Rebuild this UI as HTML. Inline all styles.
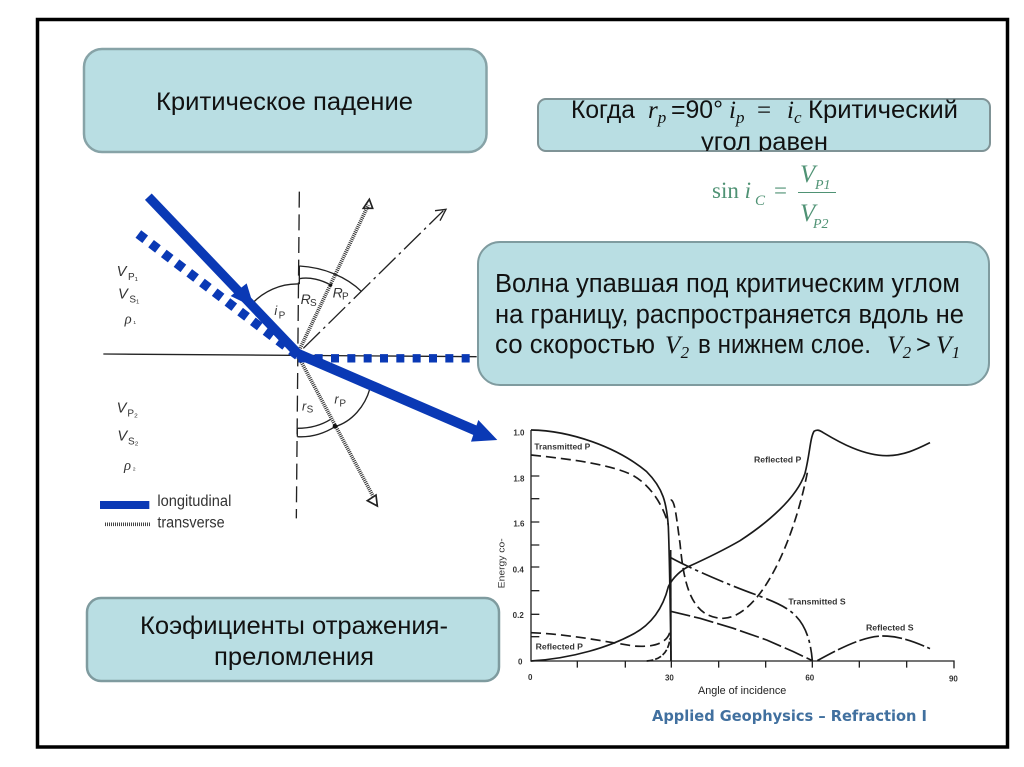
<!DOCTYPE html>
<html lang="ru"><head><meta charset="utf-8"><title>Критическое падение</title>
<style>html,body{margin:0;padding:0;background:#fff}svg{display:block;filter:blur(.35px)}
text{font-family:"Liberation Sans",sans-serif;fill:#111}
.s{font-family:"Liberation Serif",serif;font-style:italic}
</style></head><body>
<svg width="1024" height="767" viewBox="0 0 1024 767" xmlns="http://www.w3.org/2000/svg">
<defs><clipPath id="c2"><rect x="530" y="90" width="470" height="61"/></clipPath></defs>
<rect width="1024" height="767" fill="#fff"/>
<rect x="37.500" y="19.500" width="970" height="727.500" fill="#fff" stroke="#000" stroke-width="3.500"/>

<!-- boxes -->
<rect x="84" y="49" width="402.500" height="103" rx="18" fill="#b9dee3" stroke="#87a3a7" stroke-width="2.500"/>
<text x="156" y="110" font-size="25" textLength="257" lengthAdjust="spacingAndGlyphs">Критическое падение</text>

<rect x="538" y="99" width="452" height="52" rx="8" fill="#b9dee3" stroke="#7f9396" stroke-width="2"/>
<g clip-path="url(#c2)" font-size="25">
<text x="571" y="118" textLength="64" lengthAdjust="spacingAndGlyphs">Когда</text>
<text x="648" y="118" class="s">r<tspan font-size="17" dy="5">p</tspan></text>
<text x="671" y="118" textLength="52" lengthAdjust="spacingAndGlyphs">=90°</text>
<text x="729" y="118" class="s">i<tspan font-size="17" dy="5">p</tspan></text>
<text x="757" y="118" style="font-family:'Liberation Serif',serif">=</text>
<text x="787" y="118" class="s">i<tspan font-size="17" dy="5">c</tspan></text>
<text x="808" y="118" textLength="150" lengthAdjust="spacingAndGlyphs">Критический</text>
<text x="701" y="150" textLength="127" lengthAdjust="spacingAndGlyphs">угол равен</text>
</g>

<text x="712" y="198" font-size="23" style="font-family:'Liberation Serif',serif;fill:#4f9274">sin <tspan font-style="italic">i</tspan></text>
<text x="755" y="205" font-size="15" class="s" style="fill:#4f9274">C</text>
<text x="774" y="198" font-size="23" style="font-family:'Liberation Serif',serif;fill:#4f9274">=</text>
<text x="800" y="182" font-size="25" class="s" style="fill:#4f9274">V</text>
<text x="815" y="189" font-size="14" class="s" style="fill:#4f9274">P1</text>
<text x="800" y="221" font-size="25" class="s" style="fill:#4f9274">V</text>
<text x="813" y="228" font-size="14" class="s" style="fill:#4f9274">P2</text>
<rect x="798" y="192" width="38" height="1" fill="#4f9274"/>

<!-- left diagram (coords in 3x zoom space) -->
<g transform="translate(90,180) scale(.33333)">
<line x1="40" y1="522" x2="1160" y2="530" stroke="#222" stroke-width="4"/>
<line x1="628" y1="35" x2="619" y2="1015" stroke="#222" stroke-width="4" stroke-dasharray="48 20"/>
<g fill="none" stroke="#222" stroke-width="4">
<path d="M628 258 C700 262 770 290 815 335"/>
<path d="M628 296 C660 290 695 300 722 315"/>
<path d="M628 312 C570 310 520 335 485 372"/>
<path d="M840 625 C825 680 785 725 735 740 C695 765 655 772 622 770"/>
<path d="M622 745 C660 745 695 735 722 718"/>
<line x1="628" y1="258" x2="628" y2="312"/>
<line x1="622" y1="745" x2="622" y2="770"/>
<line x1="640" y1="505" x2="1060" y2="92" stroke-dasharray="70 14 8 14"/>
<path d="M1035 92 L1068 88 L1050 122"/>
<path d="M838 58 L848 85 L820 85 Z" stroke-width="5"/>
<path d="M862 978 L832 962 L858 945 Z" stroke-width="5"/>
</g>
<line x1="628" y1="510" x2="835" y2="75" stroke="#333" stroke-width="11" stroke-dasharray="3 3"/>
<line x1="628" y1="535" x2="850" y2="950" stroke="#333" stroke-width="11" stroke-dasharray="3 3"/>
<circle cx="722" cy="315" r="5" fill="#111"/><circle cx="735" cy="739" r="7" fill="#111"/>

<line x1="145" y1="162" x2="625" y2="528" stroke="#0a39b5" stroke-width="28" stroke-dasharray="26 22"/>
<line x1="625" y1="535" x2="1160" y2="535" stroke="#0a39b5" stroke-width="25" stroke-dasharray="24 25"/>
<line x1="175" y1="50" x2="625" y2="522" stroke="#0a39b5" stroke-width="28"/>
<line x1="625" y1="522" x2="1165" y2="755" stroke="#0a39b5" stroke-width="30"/>
<path d="M1165 720 L1222 780 L1143 785 Z" fill="#0a39b5"/>
<path d="M470 310 L492 382 L422 348 Z" fill="#0a39b5"/>
<rect x="30" y="963" width="148" height="24" fill="#0a39b5"/>
<line x1="45" y1="1033" x2="182" y2="1033" stroke="#444" stroke-width="11" stroke-dasharray="3 3"/>

<text x="80" y="288" class="s" style="fill:#333;font-family:'Liberation Sans',sans-serif" font-size="44">V</text><text x="114" y="300" font-size="30" style="fill:#333">P₁</text>
<text x="84" y="355" class="s" style="fill:#333;font-family:'Liberation Sans',sans-serif" font-size="44">V</text><text x="118" y="367" font-size="30" style="fill:#333">S₁</text>
<text x="104" y="430" class="s" style="fill:#333" font-size="44">ρ</text><text x="130" y="430" font-size="24" style="fill:#333">₁</text>
<text x="80" y="697" class="s" style="fill:#333;font-family:'Liberation Sans',sans-serif" font-size="44">V</text><text x="112" y="709" font-size="30" style="fill:#333">P₂</text>
<text x="82" y="782" class="s" style="fill:#333;font-family:'Liberation Sans',sans-serif" font-size="44">V</text><text x="114" y="794" font-size="30" style="fill:#333">S₂</text>
<text x="102" y="870" class="s" style="fill:#333" font-size="44">ρ</text><text x="128" y="870" font-size="24" style="fill:#333">₂</text>
<text x="553" y="405" class="s" style="fill:#333;font-family:'Liberation Sans',sans-serif" font-size="38">i</text><text x="566" y="415" font-size="30" style="fill:#333">P</text>
<text x="632" y="372" class="s" style="fill:#333;font-family:'Liberation Sans',sans-serif" font-size="42">R</text><text x="660" y="378" font-size="30" style="fill:#333">S</text>
<text x="728" y="352" class="s" style="fill:#333;font-family:'Liberation Sans',sans-serif" font-size="42">R</text><text x="756" y="358" font-size="30" style="fill:#333">P</text>
<text x="636" y="692" class="s" style="fill:#333;font-family:'Liberation Sans',sans-serif" font-size="38">r</text><text x="650" y="698" font-size="30" style="fill:#333">S</text>
<text x="733" y="670" class="s" style="fill:#333;font-family:'Liberation Sans',sans-serif" font-size="38">r</text><text x="748" y="680" font-size="30" style="fill:#333">P</text>
<text x="202" y="978" font-size="46" textLength="222" lengthAdjust="spacingAndGlyphs" style="fill:#333">longitudinal</text>
<text x="202" y="1042" font-size="46" textLength="202" lengthAdjust="spacingAndGlyphs" style="fill:#333">transverse</text>
</g>

<!-- box 3 over dashes -->
<rect x="478" y="242" width="511" height="143" rx="22" fill="#b9dee3" stroke="#7f9b9f" stroke-width="2"/>
<g font-size="25.500">
<text x="495" y="292" textLength="465" lengthAdjust="spacingAndGlyphs">Волна упавшая под критическим углом</text>
<text x="495" y="323" textLength="469" lengthAdjust="spacingAndGlyphs">на границу, распространяется вдоль не</text>
<text x="495" y="353" textLength="160" lengthAdjust="spacingAndGlyphs">со скоростью</text>
<text x="665" y="353" class="s">V<tspan font-size="17" dy="5">2</tspan></text>
<text x="698" y="353" textLength="173" lengthAdjust="spacingAndGlyphs">в нижнем слое.</text>
<text x="887" y="353" class="s">V<tspan font-size="17" dy="5">2</tspan></text>
<text x="916" y="353">&gt;</text>
<text x="936" y="353" class="s">V<tspan font-size="17" dy="5">1</tspan></text>
</g>

<!-- box 4 -->
<rect x="87" y="598" width="412" height="83" rx="14" fill="#b9dee3" stroke="#7f9b9f" stroke-width="2.500"/>
<text x="140" y="634" font-size="25" textLength="308" lengthAdjust="spacingAndGlyphs">Коэфициенты отражения-</text>
<text x="214" y="665" font-size="25" textLength="160" lengthAdjust="spacingAndGlyphs">преломления</text>

<!-- chart (coords in 3x zoom space) -->
<g transform="translate(500,410) scale(.33333)">
<g fill="none" stroke="#222" stroke-width="4">
<path d="M93 60 V753 H1362 V775"/>
<path d="M93 198H118M93 266H118M93 336H118M93 405H118M93 471H118M93 542H118M93 613H118M93 680H118"/>
<path d="M232 753V773M376 753V773M514 753V773M656 753V773M797 753V773M937 753V773M1078 753V773M1220 753V773"/>
</g>
<g fill="none" stroke="#1a1a1a" stroke-width="5" stroke-linejoin="round">
<path d="M93 60 C210 62 350 110 440 185 C490 235 500 280 505 350 C509 450 511 600 513 753"/>
<path d="M93 753 C220 745 330 710 400 672 C460 640 490 590 505 530 C520 500 545 480 565 470 C620 445 680 415 720 392 C800 340 890 265 915 190 C930 130 930 85 942 64 C950 58 958 60 970 68 C1020 98 1090 137 1160 137 C1210 137 1250 118 1290 98"/>
<line x1="512" y1="420" x2="513" y2="753"/>
<path stroke-dasharray="30 15" d="M93 135 C220 148 340 165 400 197 C450 225 490 285 505 345"/>
<path stroke-dasharray="28 14" d="M512 270 C525 268 530 330 540 400 C550 500 565 625 670 625 C780 620 880 400 922 188"/>
<path stroke-dasharray="70 12 10 12" d="M512 443 C580 480 700 530 770 555 C860 590 925 610 937 752"/>
<polyline stroke-dasharray="60 12" points="512,604 600,625 700,655 800,690 880,725 937,752"/>
<path stroke-dasharray="60 10" d="M952 752 C1020 715 1090 678 1150 678 C1200 678 1250 698 1290 716"/>
<path stroke-dasharray="30 15" d="M93 668 C200 672 300 692 400 708 C450 712 500 705 510 665"/>
<path stroke-dasharray="20 6" d="M440 753 C480 750 505 730 510 685"/>
</g>
<g style="font-weight:bold">
<text x="103" y="118" textLength="168" lengthAdjust="spacingAndGlyphs" style="fill:#333;font-size:26px">Transmitted P</text>
<text x="762" y="158" textLength="142" lengthAdjust="spacingAndGlyphs" style="fill:#333;font-size:26px">Reflected P</text>
<text x="107" y="718" textLength="142" lengthAdjust="spacingAndGlyphs" style="fill:#333;font-size:26px">Reflected P</text>
<text x="865" y="584" textLength="172" lengthAdjust="spacingAndGlyphs" style="fill:#333;font-size:26px">Transmitted S</text>
<text x="1098" y="661" textLength="143" lengthAdjust="spacingAndGlyphs" style="fill:#333;font-size:26px">Reflected S</text>
<text x="40" y="76" style="fill:#333;font-size:24px">1.0</text>
<text x="40" y="214" style="fill:#333;font-size:24px">1.8</text>
<text x="40" y="350" style="fill:#333;font-size:24px">1.6</text>
<text x="38" y="488" style="fill:#333;font-size:24px">0.4</text>
<text x="38" y="624" style="fill:#333;font-size:24px">0.2</text>
<text x="54" y="763" style="fill:#333;font-size:24px">0</text>
<text x="84" y="810" style="fill:#333;font-size:24px">0</text>
<text x="495" y="812" style="fill:#333;font-size:24px">30</text>
<text x="916" y="812" style="fill:#333;font-size:24px">60</text>
<text x="1347" y="815" style="fill:#333;font-size:24px">90</text>
<text x="594" y="852" textLength="265" lengthAdjust="spacingAndGlyphs" style="fill:#222;font-size:33px;font-weight:normal">Angle of incidence</text>
<text transform="translate(14,535) rotate(-90)" textLength="150" lengthAdjust="spacingAndGlyphs" style="fill:#333;font-size:28px;font-weight:normal">Energy co-</text>
</g>
</g>
<text x="652" y="721" font-size="15.500" font-weight="bold" textLength="275" lengthAdjust="spacingAndGlyphs" style="font-family:'DejaVu Sans',sans-serif;fill:#41709f">Applied Geophysics – Refraction I</text>
</svg>
</body></html>
